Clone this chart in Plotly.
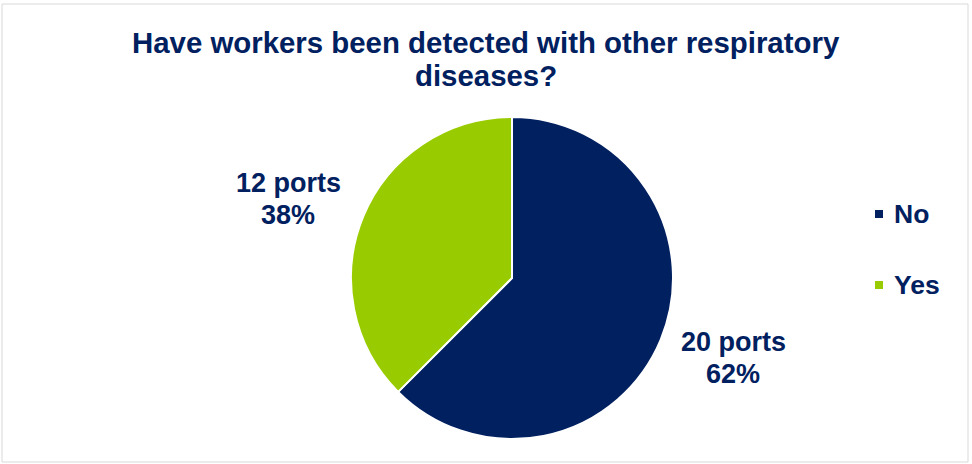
import plotly.graph_objects as go

categories = ["No", "Yes"]
ports = [20, 12]
percent_labels = ["62%", "38%"]

COLORS = ["#002060", "#99CC00"]
TEXT = "#002060"
FONT = "Liberation Sans, Arial, sans-serif"
W, H = 972, 464

def px(x):
    return x / W

def py(y):
    return 1 - y / H

fig = go.Figure(go.Pie(
    labels=categories,
    values=ports,
    sort=False,
    direction="clockwise",
    rotation=0,
    marker=dict(colors=COLORS, line=dict(color="white", width=2)),
    textinfo="none",
    hoverinfo="label+value+percent",
    showlegend=False,
    domain=dict(x=[px(351), px(673)], y=[py(439), py(117)]),
))

annotations = []
# title (two lines)
for txt, yc in [("Have workers been detected with other respiratory", 42),
                ("diseases?", 75)]:
    annotations.append(dict(text=f"<b>{txt}</b>", x=px(486), y=py(yc), xref="paper", yref="paper",
                            xanchor="center", yanchor="middle", showarrow=False,
                            font=dict(family=FONT, size=29.4, color=TEXT)))

# data labels (two lines each)
label_pos = {"No": (733, 342), "Yes": (288, 183)}
for cat, n, pct in zip(categories, ports, percent_labels):
    x, y = label_pos[cat]
    for i, line in enumerate([f"{n} ports", pct]):
        annotations.append(dict(text=f"<b>{line}</b>", x=px(x), y=py(y + 32 * i), xref="paper", yref="paper",
                                xanchor="center", yanchor="middle", showarrow=False, align="center",
                                font=dict(family=FONT, size=27, color=TEXT)))

# legend
shapes = []
legend_y = {"No": 214, "Yes": 285}
for cat, col in zip(categories, COLORS):
    yc = legend_y[cat]
    shapes.append(dict(type="rect", xref="paper", yref="paper",
                       x0=px(875), x1=px(883), y0=py(yc + 4), y1=py(yc - 4),
                       fillcolor=col, line=dict(width=0)))
    annotations.append(dict(text=f"<b>{cat}</b>", x=px(892), y=py(yc), xref="paper", yref="paper",
                            xanchor="left", yanchor="middle", showarrow=False,
                            font=dict(family=FONT, size=26.5, color=TEXT)))

# chart border
shapes.append(dict(type="rect", xref="paper", yref="paper",
                   x0=px(2), x1=px(968), y0=py(462), y1=py(4),
                   line=dict(color="#D9D9D9", width=1), fillcolor="rgba(0,0,0,0)"))

fig.update_layout(
    width=W, height=H,
    margin=dict(l=0, r=0, t=0, b=0),
    paper_bgcolor="white",
    plot_bgcolor="white",
    annotations=annotations,
    shapes=shapes,
)

fig.write_html("out.html")
